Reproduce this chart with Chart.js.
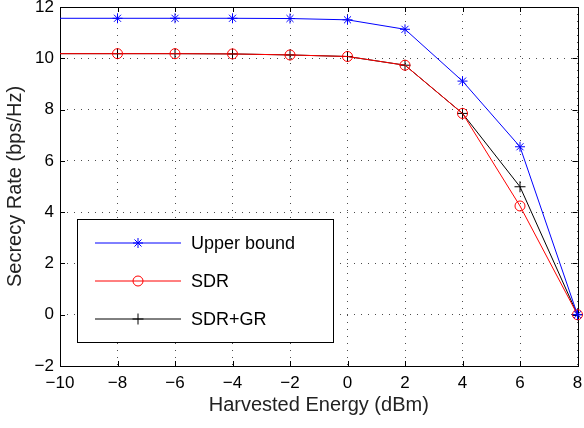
<!DOCTYPE html>
<html>
<head>
<meta charset="utf-8">
<script src="https://cdn.jsdelivr.net/npm/chart.js@4"></script>
<style>
 html,body{margin:0;padding:0;background:#fff}
 #wrap{width:584px;height:428px}
</style>
</head>
<body>
<div id="wrap"><canvas id="c" width="584" height="428"></canvas></div>
<script>

// harvested energy (dBm)
const energy = [-10, -8, -6, -4, -2, 0, 2, 4, 6, 8]

const upperBound = [11.56, 11.56, 11.56, 11.56, 11.55, 11.5, 11.13, 9.11, 6.55, 0]
const sdr        = [10.18, 10.18, 10.18, 10.17, 10.13, 10.07, 9.73, 7.85, 4.24, 0]
const sdrGr      = [10.18, 10.18, 10.18, 10.17, 10.13, 10.07, 9.73, 7.85, 4.99, 0]

const xTicks = [-10, -8, -6, -4, -2, 0, 2, 4, 6, 8]
const yTicks = [-2, 0, 2, 4, 6, 8, 10, 12]

const font = "'Liberation Sans', Arial, sans-serif"

function pts(ys){
 return energy.map((x,i)=>({x:x, y:ys[i]}))
}

// no marker on the first point, it sits on the axis edge
const radii = r => energy.map((x,i)=> i === 0 ? 0 : r)

const minus = v => String(v).replace("-", "\u2212")

// legend box inside the plot, matlab style
const boxLegend = {
 id:"boxLegend",
 afterDraw(chart){
  const ctx = chart.ctx
  const sets = chart.data.datasets
  const x0 = 77.5, y0 = 219.5, w = 256, h = 123
  ctx.save()
  ctx.fillStyle = "#fff"
  ctx.strokeStyle = "#000"
  ctx.lineWidth = 1
  ctx.fillRect(x0, y0, w, h)
  ctx.strokeRect(x0, y0, w, h)
  sets.forEach((ds,i)=>{
   const y = 243 + i*38
   ctx.strokeStyle = ds.borderColor
   ctx.lineWidth = 1
   ctx.beginPath()
   ctx.moveTo(95, y)
   ctx.lineTo(181, y)
   ctx.stroke()
   ctx.fillStyle = "rgba(0,0,0,0)"
   Chart.helpers.drawPoint(ctx, {
    pointStyle: ds.pointStyle, radius: ds.pointStyle === "cross" ? 5.5 : 5, borderWidth: 1
   }, 138, y)
   ctx.fillStyle = "#000"
   ctx.font = "18px " + font
   ctx.textBaseline = "middle"
   ctx.fillText(ds.label, 191, y + 1)
  })
  ctx.restore()
 }
}

// frame and inward tick marks
const frame = {
 id:"frame",
 beforeDatasetsDraw(chart){
  const ctx = chart.ctx
  const a = chart.chartArea
  const xs = chart.scales.x, ys = chart.scales.y
  ctx.save()
  ctx.strokeStyle = "#000"
  ctx.lineWidth = 1
  ctx.strokeRect(Math.round(a.left)+0.5, Math.round(a.top)+0.5,
   Math.round(a.right-a.left), Math.round(a.bottom-a.top))
  ctx.beginPath()
  xTicks.forEach(v=>{
   const px = Math.round(xs.getPixelForValue(v)) + 0.5
   ctx.moveTo(px, a.bottom); ctx.lineTo(px, a.bottom-5)
   ctx.moveTo(px, a.top); ctx.lineTo(px, a.top+5)
  })
  yTicks.forEach(v=>{
   const py = Math.round(ys.getPixelForValue(v)) + 0.5
   ctx.moveTo(a.left, py); ctx.lineTo(a.left+5, py)
   ctx.moveTo(a.right, py); ctx.lineTo(a.right-5, py)
  })
  ctx.stroke()
  ctx.restore()
 }
}

const line = (label, ys, color, style, r) => ({
 label:label,
 data:pts(ys),
 borderColor:color,
 pointStyle:style,
 pointRadius:radii(r),
 pointBorderColor:color,
 pointBackgroundColor:"transparent",
 borderWidth:1,
 tension:0,
 clip:8
})

new Chart(document.getElementById("c"), {
 type:"line",
 data:{
  datasets:[
   line("Upper bound", upperBound, "#0000ff", "star", 5),
   line("SDR", sdr, "#ff0000", "circle", 5),
   line("SDR+GR", sdrGr, "#000000", "cross", 5.5)
  ]
 },
 options:{
  responsive:false,
  animation:false,
  devicePixelRatio:1,
  layout:{padding:{top:7, right:4, left:0, bottom:0}},
  plugins:{legend:{display:false}, tooltip:{enabled:false}},
  elements:{point:{borderWidth:1}},
  scales:{
   x:{
    type:"linear",
    min:-10, max:8,
    afterFit(s){ s.height = 62; s.paddingLeft = 0; s.paddingRight = 0 },
    afterBuildTicks(s){ s.ticks = xTicks.map(v=>({value:v})) },
    ticks:{
     color:"#000", font:{family:font, size:17, lineHeight:1.1}, padding:8,
     maxRotation:0, autoSkip:false,
     callback:minus
    },
    grid:{
     color:"rgba(0,0,0,0.7)", lineWidth:1, drawTicks:false
    },
    border:{display:false, dash:[1,6]},
    title:{display:true, text:"Harvested Energy (dBm)", color:"#222",
     font:{family:font, size:20, lineHeight:1.1}, padding:{top:0, bottom:12}}
   },
   y:{
    min:-2, max:12,
    afterFit(s){ s.width = 60; s.paddingTop = 0; s.paddingBottom = 0 },
    afterBuildTicks(s){ s.ticks = yTicks.map(v=>({value:v})) },
    ticks:{
     color:"#000", font:{family:font, size:17}, padding:6,
     autoSkip:false,
     callback:minus
    },
    grid:{
     color:"rgba(0,0,0,0.7)", lineWidth:1, drawTicks:false
    },
    border:{display:false, dash:[1,6]},
    title:{display:true, text:"Secrecy Rate (bps/Hz)", color:"#222",
     font:{family:font, size:20, lineHeight:1.1}, padding:{top:4, bottom:0}}
   }
  }
 },
 plugins:[frame, boxLegend]
})

</script>
</body>
</html>
